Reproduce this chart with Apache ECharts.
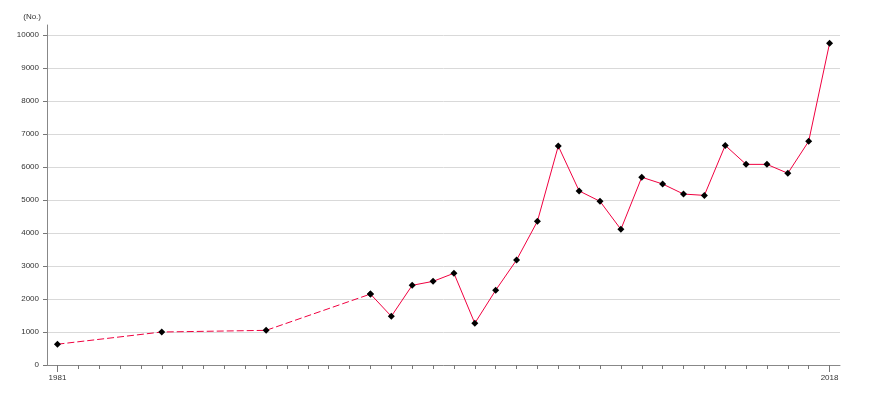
<!DOCTYPE html>
<html><head><meta charset="utf-8">
<script src="https://cdn.jsdelivr.net/npm/echarts@6/dist/echarts.min.js"></script>
<style>html,body{margin:0;padding:0;background:#fff}#c{width:870px;height:400px}</style>
</head><body><div id="c"></div>
<script>
const years = [];
for (let y = 1981; y <= 2018; y++) years.push(String(y));
const earlyYears = ['1981','1986','1991','1996'];
const earlyValues = [630, 1000, 1050, 2150];
const yearlyYears = ['1996','1997','1998','1999','2000','2001','2002','2003','2004','2005','2006','2007','2008','2009','2010','2011','2012','2013','2014','2015','2016','2017','2018'];
const yearlyValues = [2150, 1475, 2415, 2535, 2780, 1265, 2265, 3180, 4355, 6635, 5275, 4960, 4110, 5690, 5485, 5180, 5140, 6655, 6080, 6080, 5810, 6780, 9750];
const yTicks = [0,1000,2000,3000,4000,5000,6000,7000,8000,9000,10000];
const labeledYears = ['1981','2018'];

function toSeries(ys, vs) {
  return years.map(y => { const i = ys.indexOf(y); return i >= 0 ? vs[i] : null; });
}
const FONT = 'Liberation Sans';
const LINE = '#f00040';
const chart = echarts.init(document.getElementById('c'));
chart.setOption({
  animation: false,
  grid: [
    {left: 47, right: 30, top: 35, bottom: 35},
    {left: 47, right: 30, top: 25, bottom: 35}
  ],
  xAxis: [
    {gridIndex: 0, type: 'category', data: years, boundaryGap: true,
     axisLine: {show: true, lineStyle: {color: '#888', width: 1}},
     axisTick: {show: true, alignWithLabel: true, interval: 0, length: 4, lineStyle: {color: '#777', width: 1}},
     axisLabel: {interval: (i, v) => labeledYears.includes(v), color: '#333', fontFamily: FONT, fontSize: 8, margin: 9},
     splitLine: {show: false}},
    {gridIndex: 0, type: 'category', data: years, boundaryGap: true, position: 'bottom',
     axisLine: {show: false},
     axisTick: {show: true, alignWithLabel: true, interval: (i, v) => labeledYears.includes(v), length: 7, lineStyle: {color: '#777', width: 1}},
     axisLabel: {show: false}, splitLine: {show: false}},
    {gridIndex: 1, type: 'category', data: years, show: false}
  ],
  yAxis: [
    {gridIndex: 0, type: 'value', min: yTicks[0], max: yTicks[yTicks.length-1], interval: 1000,
     axisLine: {show: true, lineStyle: {color: '#888', width: 1}},
     axisTick: {show: true, length: 4, lineStyle: {color: '#777', width: 1}},
     axisLabel: {color: '#333', fontFamily: FONT, fontSize: 8, margin: 8, formatter: v => String(v)},
     splitLine: {lineStyle: {color: '#d9d9d9', width: 1}}},
    {gridIndex: 1, type: 'value', min: 0, max: 10300,
     axisLine: {show: true, lineStyle: {color: '#888', width: 1}},
     axisTick: {show: false}, axisLabel: {show: false}, splitLine: {show: false},
     name: '(No.)', nameLocation: 'end', nameGap: 4,
     nameTextStyle: {color: '#333', fontFamily: FONT, fontSize: 8, align: 'right', padding: [0, 6, 0, 0]}}
  ],
  series: [
    {type: 'line', xAxisIndex: 0, yAxisIndex: 0, data: toSeries(earlyYears, earlyValues), connectNulls: true,
     lineStyle: {color: LINE, width: 1, type: [7, 3]}, symbol: 'diamond', symbolSize: 7,
     itemStyle: {color: '#000'}, z: 3},
    {type: 'line', xAxisIndex: 0, yAxisIndex: 0, data: toSeries(yearlyYears, yearlyValues), connectNulls: true,
     lineStyle: {color: LINE, width: 1}, symbol: 'diamond', symbolSize: 7,
     itemStyle: {color: '#000'}, z: 4}
  ]
});
</script></body></html>
